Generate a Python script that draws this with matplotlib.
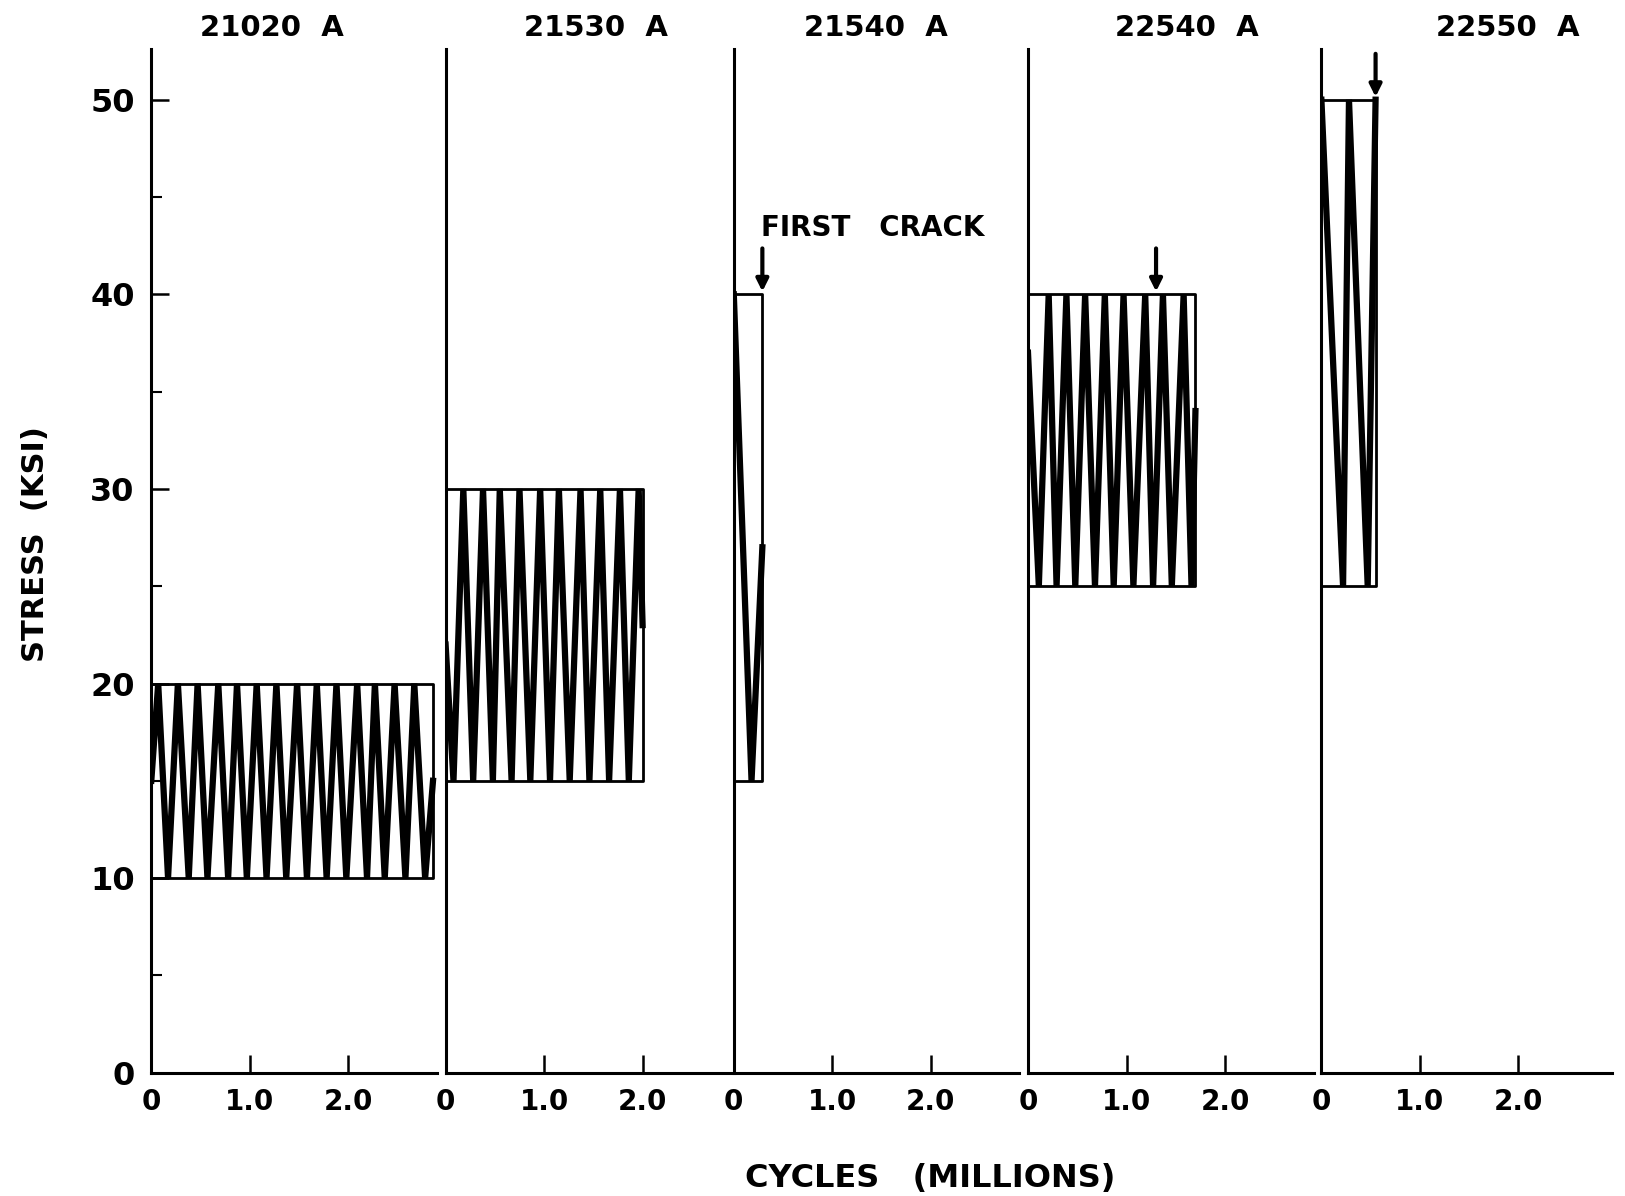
import matplotlib.pyplot as plt

# specimen names and loading blocks (stress in ksi, cycles in millions)
specimens = ['21020  A', '21530  A', '21540  A', '22540  A', '22550  A']
stress_min = [10, 15, 15, 25, 25]
stress_max = [20, 30, 40, 40, 50]
cycles_end = [2.86, 2.0, 0.29, 1.70, 0.55]
first_crack = [None, None, 0.29, 1.30, 0.55]

# zig-zag vertices
wave_x = [
    [0, 0.07, 0.17, 0.27, 0.38, 0.47, 0.57, 0.68, 0.78, 0.87, 0.97, 1.07, 1.17, 1.27, 1.37,
     1.48, 1.58, 1.68, 1.78, 1.88, 1.98, 2.09, 2.19, 2.27, 2.37, 2.47, 2.58, 2.67, 2.78, 2.86],
    [0, 0.08, 0.18, 0.28, 0.38, 0.48, 0.55, 0.67, 0.75, 0.86, 0.96, 1.06, 1.15, 1.26, 1.37,
     1.46, 1.57, 1.66, 1.77, 1.86, 1.96, 2.0],
    [0, 0.18, 0.29],
    [0, 0.11, 0.21, 0.29, 0.39, 0.48, 0.58, 0.68, 0.78, 0.87, 0.97, 1.07, 1.19, 1.27, 1.37,
     1.46, 1.58, 1.66, 1.70],
    [0, 0.22, 0.28, 0.47, 0.55],
]
wave_y = [
    [15] + [20, 10] * 14 + [15],
    [22] + [15, 30] * 10 + [23],
    [40, 15, 27],
    [37] + [25, 40] * 8 + [25, 34],
    [50, 25, 50, 25, 50],
]

title_x = [1.22, 1.53, 1.44, 1.61, 1.89]

plt.rcParams['font.family'] = 'DejaVu Sans'
plt.rcParams['font.weight'] = 'bold'

fig = plt.figure(figsize=(16.25, 11.96), dpi=100)
W, H = 1625.0, 1196.0
px_per_m = 98.5
lefts = [151.3, 445.6, 733.8, 1028.0, 1321.4]
x_top = [2.9, 2.9, 2.9, 2.9, 2.95]
y_top = 52.6
bottom = (H - 1072.7) / H
height = y_top * 19.46 / H

for i in range(5):
    ax = fig.add_axes([lefts[i] / W, bottom, x_top[i] * px_per_m / W, height])
    ax.set_xlim(0, x_top[i])
    ax.set_ylim(0, y_top)
    for s in ['top', 'right']:
        ax.spines[s].set_visible(False)
    for s in ['left', 'bottom']:
        ax.spines[s].set_linewidth(2.2)

    # loading block box
    x1 = cycles_end[i]
    lo, hi = stress_min[i], stress_max[i]
    ax.plot([0, x1, x1, 0], [hi, hi, lo, lo], color='k', lw=2, clip_on=False)
    ax.plot(wave_x[i], wave_y[i], color='k', lw=4.5, solid_joinstyle='miter')

    if first_crack[i] is not None:
        ax.annotate('', xy=(first_crack[i], hi), xytext=(first_crack[i], hi + 2.5),
                    annotation_clip=False,
                    arrowprops=dict(arrowstyle='-|>', lw=3, color='k', mutation_scale=18))

    ax.set_xticks([0, 1, 2])
    ax.set_xticklabels(['0', '1.0', '2.0'])
    ax.tick_params(axis='x', direction='in', length=13, width=1.8, labelsize=20, pad=11)
    if i == 0:
        ax.set_yticks([0, 10, 20, 30, 40, 50])
        ax.set_yticks([5, 15, 25, 35, 45], minor=True)
        ax.tick_params(axis='y', which='major', direction='in', length=13, width=1.8,
                       labelsize=23, pad=12)
        ax.tick_params(axis='y', which='minor', direction='in', length=8, width=1.5)
    else:
        ax.set_yticks([])

    ax.text(title_x[i], 53.7, specimens[i], ha='center', va='center',
            fontsize=21, fontweight='bold')
    if i == 2:
        ax.text(0.28, 43.4, 'FIRST   CRACK', ha='left', va='center',
                fontsize=20, fontweight='bold')

fig.text(36 / W, 1 - 544 / H, 'STRESS  (KSI)', rotation=90, ha='center', va='center',
         fontsize=22, fontweight='bold')
fig.text(930 / W, 1 - 1178 / H, 'CYCLES   (MILLIONS)', ha='center', va='center',
         fontsize=23, fontweight='bold')

fig.savefig('out.png', dpi=100, facecolor='white')
